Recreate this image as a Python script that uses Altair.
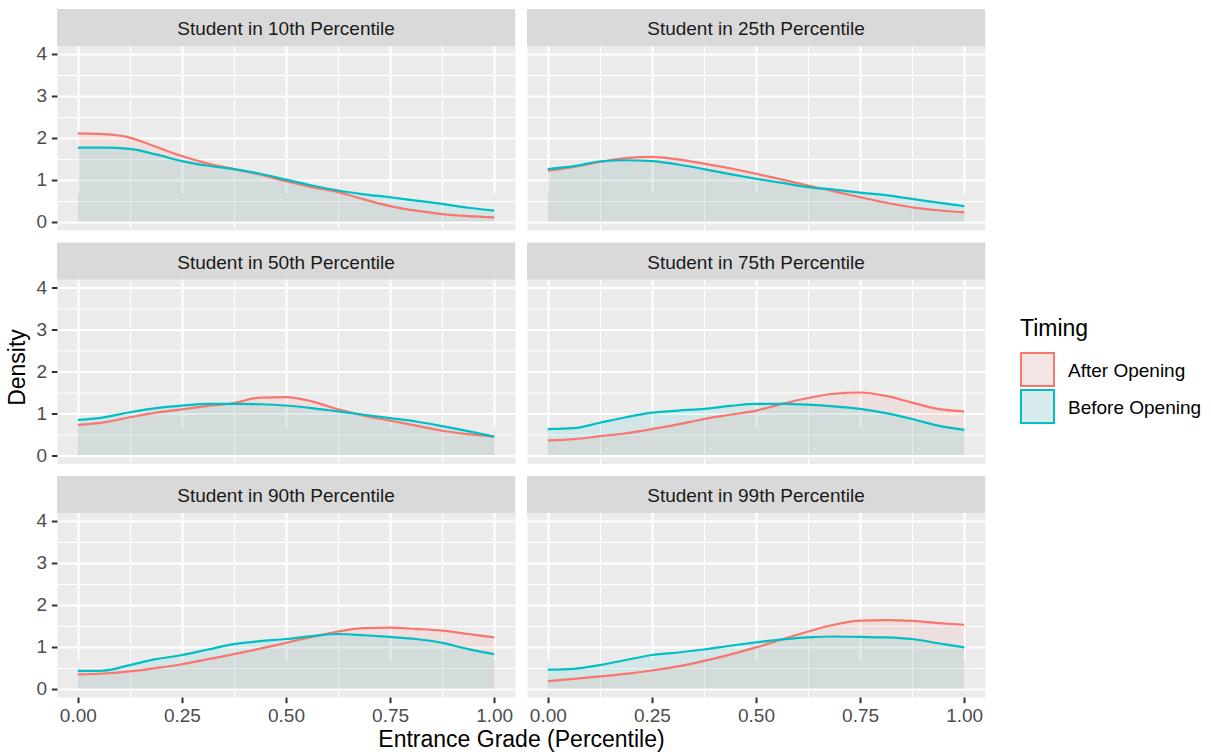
import altair as alt
import pandas as pd

# ---------------- data ----------------
grade = [0.0, 0.0625, 0.125, 0.1875, 0.25, 0.3125, 0.375, 0.4375, 0.5,
         0.5625, 0.625, 0.6875, 0.75, 0.8125, 0.875, 0.9375, 1.0]

panel_names = [
    "Student in 10th Percentile", "Student in 25th Percentile",
    "Student in 50th Percentile", "Student in 75th Percentile",
    "Student in 90th Percentile", "Student in 99th Percentile",
]
timing = ["After Opening", "Before Opening"]
colors = ["#F8766D", "#00BFC4"]

after_10 = [2.10, 2.08, 2.00, 1.78, 1.56, 1.38, 1.25, 1.12, 0.96, 0.82, 0.70, 0.53, 0.37, 0.26, 0.18, 0.13, 0.10]
before_10 = [1.76, 1.76, 1.73, 1.60, 1.44, 1.33, 1.25, 1.14, 1.00, 0.86, 0.74, 0.65, 0.58, 0.50, 0.42, 0.33, 0.26]
after_25 = [1.21, 1.30, 1.42, 1.51, 1.54, 1.48, 1.38, 1.27, 1.14, 1.00, 0.86, 0.72, 0.58, 0.45, 0.34, 0.27, 0.22]
before_25 = [1.25, 1.32, 1.43, 1.46, 1.44, 1.36, 1.25, 1.13, 1.02, 0.92, 0.82, 0.76, 0.69, 0.63, 0.54, 0.45, 0.37]
after_50 = [0.72, 0.78, 0.90, 1.01, 1.09, 1.17, 1.24, 1.37, 1.38, 1.28, 1.09, 0.94, 0.82, 0.70, 0.58, 0.50, 0.44]
before_50 = [0.84, 0.90, 1.02, 1.12, 1.18, 1.22, 1.22, 1.21, 1.18, 1.12, 1.04, 0.96, 0.88, 0.80, 0.69, 0.57, 0.44]
after_75 = [0.35, 0.38, 0.45, 0.52, 0.62, 0.73, 0.86, 0.96, 1.06, 1.22, 1.36, 1.46, 1.49, 1.41, 1.25, 1.10, 1.04]
before_75 = [0.62, 0.64, 0.77, 0.90, 1.01, 1.06, 1.10, 1.17, 1.22, 1.22, 1.20, 1.16, 1.10, 1.00, 0.86, 0.70, 0.60]
after_90 = [0.34, 0.36, 0.41, 0.49, 0.58, 0.70, 0.82, 0.95, 1.09, 1.23, 1.36, 1.44, 1.45, 1.42, 1.38, 1.30, 1.22]
before_90 = [0.42, 0.43, 0.56, 0.70, 0.80, 0.93, 1.06, 1.13, 1.18, 1.25, 1.30, 1.27, 1.23, 1.18, 1.09, 0.94, 0.82]
after_99 = [0.18, 0.23, 0.29, 0.35, 0.43, 0.53, 0.66, 0.81, 0.98, 1.17, 1.36, 1.52, 1.62, 1.63, 1.61, 1.56, 1.52]
before_99 = [0.45, 0.47, 0.56, 0.68, 0.80, 0.86, 0.93, 1.02, 1.10, 1.17, 1.22, 1.24, 1.23, 1.22, 1.18, 1.08, 0.98]

x_major = [0, 0.25, 0.5, 0.75, 1]
x_minor = [0.125, 0.375, 0.625, 0.875]
y_major = [0, 1, 2, 3, 4]
y_minor = [0.5, 1.5, 2.5, 3.5]

series = {
    panel_names[0]: (after_10, before_10),
    panel_names[1]: (after_25, before_25),
    panel_names[2]: (after_50, before_50),
    panel_names[3]: (after_75, before_75),
    panel_names[4]: (after_90, before_90),
    panel_names[5]: (after_99, before_99),
}

rows = []
for name, (a, b) in series.items():
    for t, vals in zip(timing, (a, b)):
        for g, v in zip(grade, vals):
            rows.append({"panel": name, "Timing": t, "grade": g, "density": v})
df = pd.DataFrame(rows)
strip_df = pd.DataFrame({"panel": panel_names})
legend_df = pd.DataFrame({"Timing": timing})
legend_title_df = pd.DataFrame({"title": ["Timing"]})

# ---------------- layout constants ----------------
W, H, S = 458, 221, 37          # panel width, panel height (incl. strip), strip height
FONT = "Liberation Sans"
SMALL = 19
BIG = 23

xs = alt.Scale(domain=[-0.05, 1.05], nice=False, zero=False)
ys = alt.Scale(domain=[-0.2, 4.18], range=[H, S], nice=False, zero=False)
cs = alt.Scale(domain=timing, range=colors)


def make_panel(i, name):
    left = (i % 2 == 0)
    bottom = (i // 2 == 2)
    base = alt.Chart(df).transform_filter(alt.datum.panel == name)

    minor_x = alt.Axis(orient="top", values=x_minor, labels=False, ticks=False,
                       domain=False, grid=True, gridColor="white", gridWidth=1.1,
                       title=None)
    minor_y = alt.Axis(orient="right", values=y_minor, labels=False, ticks=False,
                       domain=False, grid=True, gridColor="white", gridWidth=1.1,
                       title=None)

    xkw = dict(orient="bottom", values=x_major, format=".2f", labels=bottom,
               ticks=bottom, domain=False, grid=True, gridColor="white",
               gridWidth=2.1, tickSize=5.7, tickWidth=2, tickColor="#333333",
               labelColor="#4D4D4D", labelFontSize=SMALL, labelPadding=4,
               labelFlush=False, labelOverlap=False, labelFont=FONT)
    if bottom and left:
        xkw.update(title="Entrance Grade (Percentile)", titleFontSize=BIG,
                   titleFontWeight="normal", titleColor="black", titlePadding=3,
                   titleX=464, titleFont=FONT)
    else:
        xkw.update(title=None)
    major_x = alt.Axis(**xkw)

    ykw = dict(orient="left", values=y_major, format="d", labels=left,
               ticks=left, domain=False, grid=True, gridColor="white",
               gridWidth=2.1, tickSize=5.7, tickWidth=2, tickColor="#333333",
               labelColor="#4D4D4D", labelFontSize=SMALL, labelPadding=4.6,
               labelFlush=False, labelOverlap=False, labelFont=FONT)
    if left and i // 2 == 1:
        ykw.update(title="Density", titleFontSize=BIG, titleFontWeight="normal",
                   titleColor="black", titlePadding=7, titleY=124.5, titleFont=FONT)
    else:
        ykw.update(title=None)
    major_y = alt.Axis(**ykw)

    area = base.mark_area(fillOpacity=0.1, interpolate="monotone").encode(
        x=alt.X("grade:Q", scale=xs, axis=minor_x),
        y=alt.Y("density:Q", scale=ys, axis=minor_y, stack=None),
        y2=alt.datum(0),
        fill=alt.Fill("Timing:N", scale=cs, legend=None),
    )
    line = base.mark_line(strokeWidth=2.2, interpolate="monotone").encode(
        x=alt.X("grade:Q", scale=xs, axis=major_x),
        y=alt.Y("density:Q", scale=ys, axis=major_y),
        stroke=alt.Stroke("Timing:N", scale=cs, legend=None),
    )
    strip = alt.Chart(strip_df).transform_filter(alt.datum.panel == name)
    strip_rect = strip.mark_rect(color="#D9D9D9").encode(
        x=alt.value(0), x2=alt.value(W), y=alt.value(0), y2=alt.value(S))
    strip_text = strip.mark_text(fontSize=SMALL, color="#1A1A1A", font=FONT,
                                 align="center", baseline="alphabetic").encode(
        x=alt.value(W / 2), y=alt.value(26), text="panel:N")

    layers = [area, line, strip_rect, strip_text]

    if i == 3:  # legend drawn to the right of the "75th" panel
        ly = alt.Y("Timing:N", scale=alt.Scale(domain=timing, range=[127, 164], padding=0),
                   axis=None)
        leg = alt.Chart(legend_df)
        key_bg = leg.mark_square(size=1089, color="#F2F2F2", opacity=1).encode(
            x=alt.value(510.5), y=ly)
        key = leg.mark_square(size=1089, fillOpacity=0.1, strokeWidth=2, opacity=1).encode(
            x=alt.value(510.5), y=ly,
            fill=alt.Fill("Timing:N", scale=cs, legend=None),
            stroke=alt.Stroke("Timing:N", scale=cs, legend=None))
        key_txt = leg.mark_text(fontSize=SMALL, font=FONT, color="black", align="left",
                                baseline="alphabetic", dy=7.5).encode(
            x=alt.value(541), y=ly, text="Timing:N")
        ttl = alt.Chart(legend_title_df).mark_text(
            fontSize=BIG, font=FONT, color="black", align="left",
            baseline="alphabetic").encode(x=alt.value(493), y=alt.value(93.5), text="title:N")
        layers += [key_bg, key, key_txt, ttl]

    return alt.layer(*layers).properties(width=W, height=H).resolve_axis(
        x="independent", y="independent").resolve_scale(y="independent")


panels = [make_panel(i, n) for i, n in enumerate(panel_names)]

chart = alt.concat(
    *panels, columns=2,
    spacing=alt.RowColnumber(row=12.5, column=12),
    bounds="flush",
).properties(
    padding={"left": 5, "top": 8, "right": 9, "bottom": 2},
    background="white",
).configure(font=FONT).configure_view(stroke="transparent", fill="#EBEBEB")

chart.save("out.html", embed_options={"renderer": "svg", "actions": False})
